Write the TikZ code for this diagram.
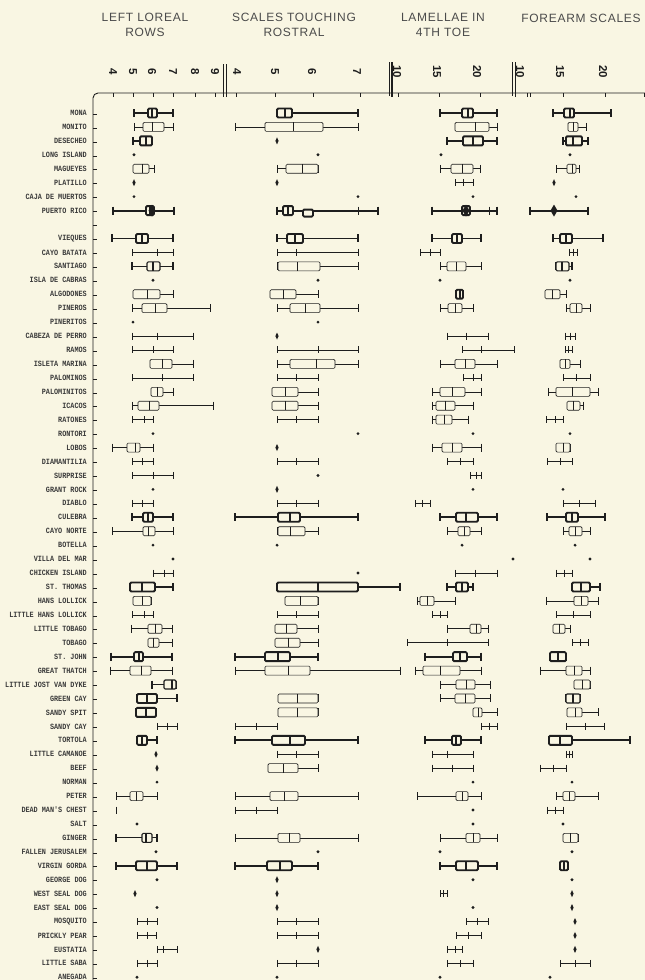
\documentclass[tikz,border=0pt]{standalone}
\usepackage{fontspec}
\setmainfont{Liberation Sans}
\newfontfamily\headfont[LetterSpace=6]{Liberation Sans}
\newfontfamily\typew[FakeStretch=0.85]{Liberation Mono}
\definecolor{bg}{HTML}{F9F6E3}
\definecolor{ink}{HTML}{1E1E1E}
\definecolor{lab}{HTML}{3A3A3A}
\tikzset{
  tn/.style={line width=0.6pt, draw=ink},
  tm/.style={line width=1.1pt, draw=ink},
  tk/.style={line width=1.9pt, draw=ink},
  ax/.style={line width=0.9pt, draw=ink},
  rowlab/.style={font=\typew\bfseries\fontsize{8}{8}\selectfont, text=lab, anchor=east, inner sep=0pt},
  head/.style={font=\headfont\fontsize{12}{14.5}\selectfont, text=ink!80, align=center, inner sep=0pt},
  num/.style={font=\bfseries\fontsize{11.5}{11.5}\selectfont, text=ink, rotate=-90, inner sep=0pt}
}
\newcommand\RY[1]{\pgfmathsetmacro\ry{113+13.94*(#1)}}
\newcommand\BP[7]{\RY{#1}%
  \draw[#2] (#3,\ry) -- (#7,\ry);
  \draw[#2] (#3,\ry-4) -- (#3,\ry+4) (#7,\ry-4) -- (#7,\ry+4);
  \draw[#2,fill=bg,rounded corners=1.2pt] (#4,\ry-4.5) rectangle (#6,\ry+4.5);
  \draw[#2] (#5,\ry-4.5) -- (#5,\ry+4.5);}
\newcommand\RG[5]{\RY{#1}%
  \draw[#2] (#3,\ry) -- (#5,\ry) (#3,\ry-3.5) -- (#3,\ry+3.5) (#4,\ry-3.5) -- (#4,\ry+3.5) (#5,\ry-3.5) -- (#5,\ry+3.5);}
\newcommand\DT[2]{\RY{#1}\fill[ink] (#2,\ry) circle (1.6pt);}
\newcommand\DM[2]{\RY{#1}\fill[ink] (#2,\ry-3.5) -- (#2+1.6,\ry) -- (#2,\ry+3.5) -- (#2-1.6,\ry) -- cycle;}
\newcommand\DMB[2]{\RY{#1}\fill[ink] (#2,\ry-6) -- (#2+3.5,\ry) -- (#2,\ry+6) -- (#2-3.5,\ry) -- cycle;}
\begin{document}
\begin{tikzpicture}[x=1pt,y=-1pt]
\fill[bg] (0,0) rectangle (645,980);
\useasboundingbox (0,0) rectangle (645,980);
% headers
\node[head] (h1) at (145,25) {LEFT LOREAL\\ROWS};
\node[head] (h2) at (294,25) {SCALES TOUCHING\\ROSTRAL};
\node[head] (h3) at (443,25) {LAMELLAE IN\\4TH TOE};
\node[head] (h4) at (581,18) {FOREARM SCALES};
% scale numbers
\foreach \x/\t [count=\k] in {113/4,133/5,152/6,173/7,195/8,215/9,237/4,275/5,312/6,357/7,397/10,437/15,477/20,520/10,560/15,603/20}
  \node[num] (n\k) at (\x,72) {\t};
% axes
\draw[ax, rounded corners=5pt] (93,980) -- (93,93) -- (645,93);
\foreach \x in {113,133,153,173,195,215,236,275,313,360,398,439,480,527,530,563,605,644}
  \draw[tn] (\x,93) -- (\x,97);
\draw[tn] (223.5,64) -- (223.5,97);
\draw[line width=1.1pt,ink] (226.5,64) -- (226.5,97);
\draw[tn] (389.5,62) -- (389.5,96);
\draw[line width=1.7pt,ink] (392,62) -- (392,97);
\draw[tn] (512.5,62) -- (512.5,96);
\draw[line width=1.7pt,ink] (515.5,62) -- (515.5,97);
\foreach \i in {0,...,62} {\RY{\i}\draw[tn] (93,\ry+1) -- (97,\ry+1);}
% row labels
\foreach \i/\t in {0/MONA,1/MONITO,2/DESECHEO,3/LONG ISLAND,4/MAGUEYES,5/PLATILLO,6/CAJA DE MUERTOS,7/PUERTO RICO,
  9/VIEQUES,10/CAYO BATATA,11/SANTIAGO,12/ISLA DE CABRAS,13/ALGODONES,14/PINEROS,15/PINERITOS,16/CABEZA DE PERRO,
  17/RAMOS,18/ISLETA MARINA,19/PALOMINOS,20/PALOMINITOS,21/ICACOS,22/RATONES,23/RONTORI,24/LOBOS,25/DIAMANTILIA,
  26/SURPRISE,27/GRANT ROCK,28/DIABLO,29/CULEBRA,30/CAYO NORTE,31/BOTELLA,32/VILLA DEL MAR,33/CHICKEN ISLAND,
  34/ST. THOMAS,35/HANS LOLLICK,36/LITTLE HANS LOLLICK,37/LITTLE TOBAGO,38/TOBAGO,39/ST. JOHN,40/GREAT THATCH,
  41/LITTLE JOST VAN DYKE,42/GREEN CAY,43/SANDY SPIT,44/SANDY CAY,45/TORTOLA,46/LITTLE CAMANOE,47/BEEF,48/NORMAN,
  49/PETER,50/DEAD MAN'S CHEST,51/SALT,52/GINGER,53/FALLEN JERUSALEM,54/VIRGIN GORDA,55/GEORGE DOG,56/WEST SEAL DOG,
  57/EAST SEAL DOG,58/MOSQUITO,59/PRICKLY PEAR,60/EUSTATIA,61/LITTLE SABA,62/ANEGADA}
  {\RY{\i}\node[rowlab] (r\i) at (87,\ry) {\t};}
% ================= column 1: left loreal rows
\BP{0}{tk}{134}{148}{152}{157}{173}
\BP{1}{tn}{134}{143}{152}{164}{173}
\BP{2}{tk}{133}{140}{146}{152}{152}
\DT{3}{134}
\BP{4}{tn}{133}{133}{142}{149}{154}
\DM{5}{134}
\DT{6}{134}
\BP{7}{tk}{113}{146}{150}{154}{174}\DMB{7}{152}
\BP{9}{tk}{112}{136}{142}{148}{173}
\RG{10}{tn}{132}{157}{173}
\BP{11}{tm}{132}{147}{153}{160}{173}
\DT{12}{153}
\BP{13}{tn}{133}{133}{147}{160}{173}
\BP{14}{tn}{132}{142}{155}{167}{210}
\DT{15}{133}
\RG{16}{tn}{132}{157}{193}
\RG{17}{tn}{132}{153}{173}
\BP{18}{tn}{150}{150}{162}{172}{193}
\RG{19}{tn}{132}{162}{193}
\BP{20}{tn}{151}{151}{157}{163}{173}
\BP{21}{tn}{132}{138}{149}{159}{213}
\RG{22}{tn}{132}{144}{153}
\DT{23}{153}
\BP{24}{tn}{112}{127}{135}{140}{153}
\RG{25}{tn}{132}{142}{153}
\RG{26}{tn}{132}{153}{173}
\DT{27}{153}
\RG{28}{tn}{132}{142}{153}
\BP{29}{tk}{132}{143}{148}{153}{173}
\BP{30}{tn}{112}{143}{148}{155}{173}
\DT{31}{153}
\DT{32}{173}
\RG{33}{tn}{153}{164}{173}
\BP{34}{tk}{130}{130}{142}{155}{173}
\BP{35}{tn}{133}{133}{142}{151}{151}
\RG{36}{tn}{132}{144}{153}
\BP{37}{tn}{131}{148}{155}{162}{172}
\BP{38}{tn}{148}{148}{153}{159}{172}
\BP{39}{tk}{111}{134}{139}{143}{172}
\BP{40}{tn}{110}{130}{141}{151}{172}
\BP{41}{tm}{152}{164}{172}{176}{176}
\BP{42}{tk}{137}{137}{147}{157}{177}
\BP{43}{tk}{136}{136}{146}{156}{156}
\RG{44}{tn}{157}{167}{177}
\BP{45}{tk}{137}{137}{142}{147}{157}
\DM{46}{156}
\DM{47}{157}
\DT{48}{157}
\BP{49}{tn}{116}{130}{136}{143}{157}
\RG{50}{tn}{116}{116}{116}
\DT{51}{137}
\BP{52}{tm}{116}{142}{146}{152}{157}
\DT{53}{156}
\BP{54}{tk}{116}{136}{147}{157}{177}
\DT{55}{157}
\DM{56}{135}
\DT{57}{157}
\RG{58}{tn}{137}{147}{157}
\RG{59}{tn}{137}{147}{156}
\RG{60}{tn}{157}{163}{177}
\RG{61}{tn}{137}{147}{157}
\DT{62}{137}
% ================= column 2: scales touching rostral
\BP{0}{tk}{277}{277}{285}{292}{358}
\BP{1}{tn}{235}{265}{293}{323}{358}
\DM{2}{277}
\DT{3}{318}
\BP{4}{tn}{277}{286}{302}{318}{318}
\DM{5}{277}
\DT{6}{358}
\BP{7}{tk}{277}{283}{288}{293}{378}\draw[tk,fill=bg,rounded corners=1.2pt] (303,\ry-1) rectangle (313,\ry+6);\draw[tn] (358,\ry-4) -- (358,\ry+4);
\BP{9}{tk}{277}{287}{295}{303}{358}
\RG{10}{tn}{277}{296}{358}
\BP{11}{tn}{277}{278}{297}{320}{358}
\DT{12}{318}
\BP{13}{tn}{270}{270}{283}{296}{318}
\BP{14}{tn}{277}{290}{305}{320}{358}
\DT{15}{318}
\DM{16}{277}
\RG{17}{tn}{277}{318}{358}
\BP{18}{tn}{277}{290}{316}{335}{358}
\RG{19}{tn}{277}{296}{318}
\BP{20}{tn}{272}{272}{285}{298}{318}
\BP{21}{tn}{272}{272}{285}{298}{318}
\RG{22}{tn}{277}{296}{318}
\DT{23}{358}
\DM{24}{277}
\RG{25}{tn}{277}{296}{318}
\DT{26}{318}
\DM{27}{277}
\RG{28}{tn}{277}{296}{318}
\BP{29}{tk}{235}{278}{290}{300}{358}
\BP{30}{tn}{277}{278}{290}{305}{318}
\DT{31}{277}
\DT{33}{358}
\BP{34}{tk}{277}{277}{318}{358}{400}
\BP{35}{tn}{285}{285}{300}{318}{318}
\RG{36}{tn}{277}{296}{318}
\BP{37}{tn}{275}{275}{286}{297}{318}
\BP{38}{tn}{275}{275}{288}{300}{318}
\BP{39}{tk}{235}{265}{278}{290}{318}
\BP{40}{tn}{235}{265}{288}{310}{400}
\BP{42}{tn}{278}{278}{297}{318}{318}
\BP{43}{tn}{278}{278}{297}{318}{318}
\RG{44}{tn}{235}{256}{277}
\BP{45}{tk}{235}{272}{290}{305}{358}
\RG{46}{tn}{277}{296}{318}
\BP{47}{tn}{268}{268}{283}{298}{318}
\BP{49}{tn}{235}{270}{284}{298}{358}
\RG{50}{tn}{235}{256}{277}
\BP{52}{tn}{235}{278}{289}{300}{358}
\DT{53}{318}
\BP{54}{tk}{235}{267}{280}{292}{318}
\DM{55}{277}
\DM{56}{277}
\DM{57}{277}
\RG{58}{tn}{277}{296}{318}
\RG{59}{tn}{277}{296}{318}
\DM{60}{318}
\RG{61}{tn}{277}{296}{318}
\DT{62}{277}
% ================= column 3: lamellae
\BP{0}{tk}{440}{462}{468}{473}{497}
\BP{1}{tn}{455}{455}{475}{489}{497}
\BP{2}{tk}{447}{463}{473}{483}{497}
\DT{3}{441}
\BP{4}{tn}{440}{451}{462}{473}{480}
\RG{5}{tn}{455}{463}{473}
\DT{6}{473}
\BP{7}{tk}{432}{462}{466}{470}{497}\DMB{7}{466}\draw[tn] (489,\ry-4) -- (489,\ry+4);
\BP{9}{tk}{432}{452}{457}{462}{481}
\RG{10}{tn}{420}{430}{440}
\BP{11}{tn}{440}{447}{456}{466}{481}
\DT{12}{440}
\BP{13}{tk}{456}{456}{460}{463}{463}
\BP{14}{tn}{440}{448}{455}{462}{473}
\RG{16}{tn}{447}{466}{488}
\RG{17}{tn}{462}{481}{514}
\BP{18}{tn}{440}{455}{465}{475}{497}
\RG{19}{tn}{463}{473}{481}
\BP{20}{tn}{432}{440}{452}{465}{481}
\BP{21}{tn}{432}{436}{445}{455}{473}
\BP{22}{tn}{432}{436}{444}{452}{468}
\DT{23}{473}
\BP{24}{tn}{432}{442}{452}{462}{481}
\RG{25}{tn}{447}{460}{473}
\RG{26}{tn}{470}{476}{481}
\DT{27}{473}
\RG{28}{tn}{415}{422}{430}
\BP{29}{tk}{440}{456}{466}{478}{497}
\BP{30}{tn}{447}{458}{464}{470}{481}
\DT{31}{462}
\DT{32}{513}
\RG{33}{tn}{455}{475}{497}
\BP{34}{tk}{447}{456}{462}{468}{473}
\BP{35}{tn}{417}{420}{427}{434}{455}
\RG{36}{tn}{432}{440}{447}
\BP{37}{tn}{447}{470}{476}{481}{488}
\RG{38}{tn}{407}{447}{488}
\BP{39}{tk}{425}{453}{460}{467}{481}
\BP{40}{tn}{415}{423}{440}{460}{481}
\BP{41}{tn}{440}{456}{466}{475}{490}
\BP{42}{tn}{440}{455}{465}{475}{490}
\BP{43}{tn}{473}{473}{478}{482}{497}
\RG{44}{tn}{481}{489}{497}
\BP{45}{tk}{425}{452}{456}{461}{481}
\RG{46}{tn}{432}{447}{473}
\RG{47}{tn}{432}{452}{473}
\DT{48}{473}
\BP{49}{tn}{417}{456}{462}{468}{481}
\DT{50}{473}
\DT{51}{473}
\BP{52}{tn}{440}{466}{473}{480}{497}
\DT{53}{440}
\BP{54}{tk}{440}{456}{466}{478}{497}
\DT{55}{473}
\RG{56}{tn}{440}{443}{447}
\DT{57}{473}
\RG{58}{tn}{466}{477}{488}
\RG{59}{tn}{456}{468}{481}
\RG{60}{tn}{447}{455}{462}
\RG{61}{tn}{447}{460}{473}
\DT{62}{440}
% ================= column 4: forearm scales
\BP{0}{tk}{553}{564}{570}{574}{611}
\BP{1}{tn}{568}{568}{573}{578}{586}
\BP{2}{tk}{563}{566}{573}{582}{588}
\DT{3}{570}
\BP{4}{tn}{556}{567}{572}{576}{579}
\DM{5}{554}
\DT{6}{576}
\RY{7}\draw[tk] (530,\ry) -- (588,\ry) (530,\ry-4) -- (530,\ry+4) (588,\ry-4) -- (588,\ry+4);\DMB{7}{554}
\BP{9}{tk}{553}{560}{566}{572}{603}
\RG{10}{tn}{569}{573}{577}
\BP{11}{tm}{556}{556}{562}{569}{572}
\DT{12}{570}
\BP{13}{tn}{545}{545}{552}{560}{566}
\BP{14}{tn}{566}{570}{576}{582}{590}
\RG{16}{tn}{565}{570}{575}
\RG{17}{tn}{565}{568}{572}
\BP{18}{tn}{560}{560}{565}{570}{580}
\RG{19}{tn}{563}{576}{590}
\BP{20}{tn}{548}{556}{572}{590}{598}
\BP{21}{tn}{567}{567}{573}{580}{583}
\RG{22}{tn}{546}{555}{563}
\DT{23}{570}
\BP{24}{tn}{556}{556}{563}{570}{570}
\RG{25}{tn}{547}{560}{572}
\DT{27}{563}
\RG{28}{tn}{563}{579}{595}
\BP{29}{tk}{547}{566}{572}{578}{605}
\BP{30}{tn}{563}{569}{575}{582}{590}
\DT{31}{575}
\DT{32}{590}
\RG{33}{tn}{556}{564}{572}
\BP{34}{tk}{572}{572}{581}{590}{600}
\BP{35}{tn}{546}{574}{581}{588}{598}
\RG{36}{tn}{556}{573}{590}
\BP{37}{tn}{553}{553}{559}{565}{570}
\RG{38}{tn}{572}{580}{588}
\BP{39}{tk}{550}{550}{558}{566}{566}
\BP{40}{tn}{540}{566}{574}{582}{590}
\BP{41}{tn}{574}{574}{582}{590}{590}
\BP{42}{tm}{566}{566}{573}{580}{580}
\BP{43}{tn}{567}{567}{575}{582}{598}
\RG{44}{tn}{566}{585}{604}
\BP{45}{tk}{549}{549}{560}{572}{630}
\RG{46}{tn}{566}{569}{572}
\RG{47}{tn}{540}{553}{566}
\DT{48}{572}
\BP{49}{tn}{556}{563}{569}{575}{598}
\RG{50}{tn}{547}{555}{563}
\DT{51}{563}
\BP{52}{tn}{563}{563}{570}{578}{578}
\DT{53}{572}
\BP{54}{tk}{560}{560}{564}{568}{568}
\DT{55}{572}
\DM{56}{572}
\DM{57}{572}
\DM{58}{575}
\DM{59}{575}
\DM{60}{575}
\RG{61}{tn}{560}{575}{590}
\DT{62}{550}
\end{tikzpicture}
\end{document}
